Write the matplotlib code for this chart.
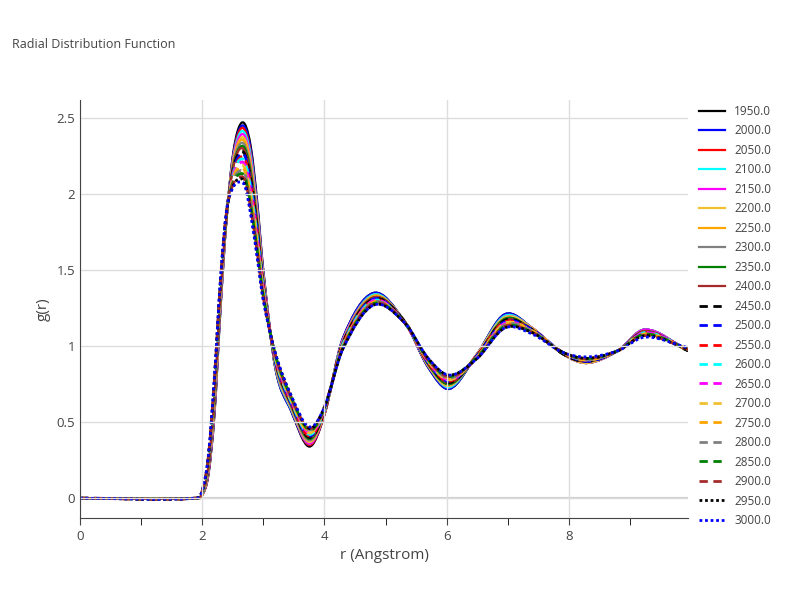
import matplotlib
matplotlib.use("Agg")
import matplotlib.pyplot as plt
from matplotlib.path import Path
from matplotlib.patches import PathPatch
from matplotlib.lines import Line2D

r = [0, 1.9, 2.0, 2.1, 2.2, 2.3, 2.4, 2.5, 2.6, 2.7, 2.8, 2.9, 3.0, 3.2, 3.45, 3.75, 4.0, 4.3, 4.8, 5.3, 5.7, 6.05, 6.5, 6.95, 7.4, 7.9, 8.3, 8.8, 9.25, 9.95]

temps = ["1950.0","2000.0","2050.0","2100.0","2150.0","2200.0","2250.0","2300.0","2350.0","2400.0","2450.0",
         "2500.0","2550.0","2600.0","2650.0","2700.0","2750.0","2800.0","2850.0","2900.0","2950.0","3000.0"]

g_1950 = [0,0,.02,.15,.55,1.25,1.85,2.25,2.44,2.46,2.30,1.95,1.50,.85,.58,.34,.55,1.05,1.35,1.17,.86,.72,.95,1.21,1.12,.95,.89,.97,1.11,.97]
g_2000 = [0,0,.02,.16,.56,1.26,1.85,2.24,2.42,2.44,2.28,1.93,1.49,.85,.58,.35,.55,1.05,1.35,1.17,.86,.72,.95,1.21,1.12,.95,.89,.97,1.11,.97]
g_2050 = [0,0,.02,.16,.57,1.27,1.85,2.23,2.41,2.42,2.26,1.91,1.48,.86,.59,.35,.55,1.04,1.34,1.17,.87,.73,.95,1.20,1.12,.95,.89,.97,1.11,.97]
g_2100 = [0,0,.02,.17,.59,1.28,1.85,2.22,2.39,2.40,2.24,1.90,1.47,.86,.59,.36,.56,1.04,1.34,1.17,.87,.73,.95,1.20,1.12,.95,.89,.97,1.11,.97]
g_2150 = [0,0,.02,.17,.60,1.29,1.85,2.21,2.37,2.38,2.21,1.88,1.46,.87,.60,.36,.56,1.04,1.33,1.17,.87,.74,.95,1.19,1.12,.95,.89,.97,1.11,.97]
g_2200 = [0,0,.02,.18,.61,1.30,1.86,2.20,2.35,2.36,2.19,1.86,1.45,.87,.60,.37,.56,1.03,1.33,1.17,.87,.74,.95,1.19,1.12,.95,.89,.97,1.10,.97]
g_2250 = [0,0,.02,.19,.62,1.31,1.86,2.19,2.34,2.34,2.17,1.84,1.44,.88,.61,.38,.56,1.03,1.33,1.17,.88,.75,.94,1.18,1.11,.95,.90,.97,1.10,.97]
g_2300 = [0,0,.03,.19,.63,1.32,1.86,2.18,2.32,2.32,2.15,1.83,1.43,.88,.61,.38,.57,1.03,1.32,1.17,.88,.75,.94,1.18,1.11,.95,.90,.97,1.10,.97]
g_2350 = [0,0,.03,.20,.65,1.33,1.86,2.17,2.30,2.30,2.13,1.81,1.42,.89,.62,.39,.57,1.02,1.32,1.17,.88,.75,.94,1.18,1.11,.95,.90,.97,1.10,.97]
g_2400 = [0,0,.03,.21,.66,1.34,1.86,2.16,2.29,2.28,2.11,1.79,1.41,.89,.62,.40,.57,1.02,1.32,1.17,.89,.76,.94,1.17,1.11,.95,.90,.97,1.10,.97]
g_2450 = [0,0,.03,.21,.67,1.35,1.87,2.15,2.27,2.26,2.09,1.77,1.40,.90,.63,.40,.57,1.02,1.31,1.17,.89,.76,.94,1.17,1.11,.95,.90,.97,1.09,.97]
g_2500 = [0,0,.03,.22,.68,1.35,1.87,2.14,2.25,2.25,2.06,1.76,1.40,.90,.63,.41,.58,1.01,1.31,1.16,.89,.77,.94,1.16,1.11,.96,.90,.97,1.09,.98]
g_2550 = [0,0,.03,.22,.69,1.36,1.87,2.13,2.23,2.23,2.04,1.74,1.39,.91,.64,.41,.58,1.01,1.30,1.16,.89,.77,.94,1.16,1.10,.96,.91,.97,1.09,.98]
g_2600 = [0,0,.03,.23,.70,1.37,1.87,2.12,2.22,2.21,2.02,1.72,1.38,.91,.64,.42,.58,1.01,1.30,1.16,.90,.78,.93,1.15,1.10,.96,.91,.97,1.09,.98]
g_2650 = [0,0,.04,.24,.72,1.38,1.87,2.11,2.20,2.19,2.00,1.70,1.37,.92,.65,.43,.58,1.00,1.30,1.16,.90,.78,.93,1.15,1.10,.96,.91,.97,1.09,.98]
g_2700 = [0,0,.04,.24,.73,1.39,1.88,2.10,2.18,2.17,1.98,1.69,1.36,.92,.65,.43,.59,1.00,1.29,1.16,.90,.78,.93,1.15,1.10,.96,.91,.97,1.08,.98]
g_2750 = [0,0,.04,.25,.74,1.40,1.88,2.09,2.17,2.15,1.96,1.67,1.35,.93,.66,.44,.59,1.00,1.29,1.16,.91,.79,.93,1.14,1.10,.96,.91,.97,1.08,.98]
g_2800 = [0,0,.04,.26,.75,1.41,1.88,2.08,2.15,2.13,1.94,1.65,1.34,.93,.66,.45,.59,.99,1.29,1.16,.91,.79,.93,1.14,1.10,.96,.91,.97,1.08,.98]
g_2850 = [0,0,.04,.26,.76,1.42,1.88,2.07,2.13,2.11,1.91,1.63,1.33,.94,.67,.45,.59,.99,1.28,1.16,.91,.80,.93,1.13,1.09,.96,.92,.97,1.08,.98]
g_2900 = [0,0,.05,.27,.78,1.43,1.89,2.06,2.11,2.09,1.89,1.62,1.32,.94,.67,.46,.60,.99,1.28,1.16,.91,.80,.92,1.13,1.09,.96,.92,.97,1.07,.98]
g_2950 = [0,0,.05,.27,.79,1.44,1.89,2.05,2.10,2.07,1.87,1.60,1.31,.95,.68,.46,.60,.98,1.27,1.16,.92,.81,.92,1.12,1.09,.96,.92,.97,1.07,.98]
g_3000 = [0,0,.05,.28,.80,1.45,1.90,2.04,2.08,2.05,1.85,1.58,1.30,.95,.68,.47,.60,.98,1.27,1.16,.92,.81,.92,1.12,1.08,.96,.93,.97,1.06,.99]

series = [g_1950,g_2000,g_2050,g_2100,g_2150,g_2200,g_2250,g_2300,g_2350,g_2400,g_2450,
          g_2500,g_2550,g_2600,g_2650,g_2700,g_2750,g_2800,g_2850,g_2900,g_2950,g_3000]

base_colors = ["black","blue","red","cyan","magenta","#f0c030","orange","gray","green","brown"]
colors = base_colors + base_colors + ["black","blue"]
styles = ["-"]*10 + [(0,(3,2))]*10 + [(0,(1,1))]*2


def smooth_path(xs, ys):
    """Catmull-Rom spline through the data points, as cubic Bezier path."""
    n = len(xs)
    verts = [(xs[0], ys[0])]
    codes = [Path.MOVETO]
    for i in range(n - 1):
        x0, y0 = (xs[i-1], ys[i-1]) if i > 0 else (xs[i], ys[i])
        x1, y1 = xs[i], ys[i]
        x2, y2 = xs[i+1], ys[i+1]
        x3, y3 = (xs[i+2], ys[i+2]) if i + 2 < n else (x2, y2)
        h = x2 - x1
        m1 = (y2 - y0) / (x2 - x0)
        m2 = (y3 - y1) / (x3 - x1)
        verts += [(x1 + h/3, y1 + m1*h/3), (x2 - h/3, y2 - m2*h/3), (x2, y2)]
        codes += [Path.CURVE4]*3
    return Path(verts, codes)


plt.rcParams['font.family'] = ['Open Sans', 'DejaVu Sans']
fig = plt.figure(figsize=(8,6), dpi=100)
ax = fig.add_axes([80/800, 82/600, 608/800, 418/600])
handles = []
for t, g, c, s in zip(temps, series, colors, styles):
    lw = 1.6 if s == "-" else 2.0
    ax.add_patch(PathPatch(smooth_path(r, g), facecolor="none", edgecolor=c, linestyle=s, linewidth=lw))
    handles.append(Line2D([], [], color=c, linestyle=s, linewidth=lw, label=t))

ax.set_xlim(0, 9.95)
ax.set_ylim(-0.13, 2.62)
ax.set_xticks([0,2,4,6,8])
ax.set_xticklabels(["0","2","4","6","8"])
ax.set_yticks([0,0.5,1,1.5,2,2.5])
ax.set_yticklabels(["0","0.5","1","1.5","2","2.5"])
ax.set_xticks([1,3,5,7,9], minor=True)
ax.grid(True, color="#dddddd", linewidth=1)
ax.axhline(0, color="#cccccc", linewidth=1.5, zorder=0)
for side in ["top","right"]:
    ax.spines[side].set_visible(False)
for side in ["left","bottom"]:
    ax.spines[side].set_color("#444444")
ax.tick_params(colors="#444444", labelsize=9.5)
ax.tick_params(axis="x", which="both", length=5)
ax.tick_params(axis="y", length=0)
ax.set_xlabel("r (Angstrom)", color="#444444", fontsize=11)
ax.set_ylabel("g(r)", color="#444444", fontsize=11)
fig.text(12/800, 1-45/600, "Radial Distribution Function", fontsize=9, color="#444444", va="center")
ax.legend(handles=handles, loc="upper left", bbox_to_anchor=(1.01, 1.0), frameon=False, fontsize=8.5,
          handlelength=2.2, labelspacing=0.55, borderaxespad=0, labelcolor="#444444")
fig.savefig("out.png")
